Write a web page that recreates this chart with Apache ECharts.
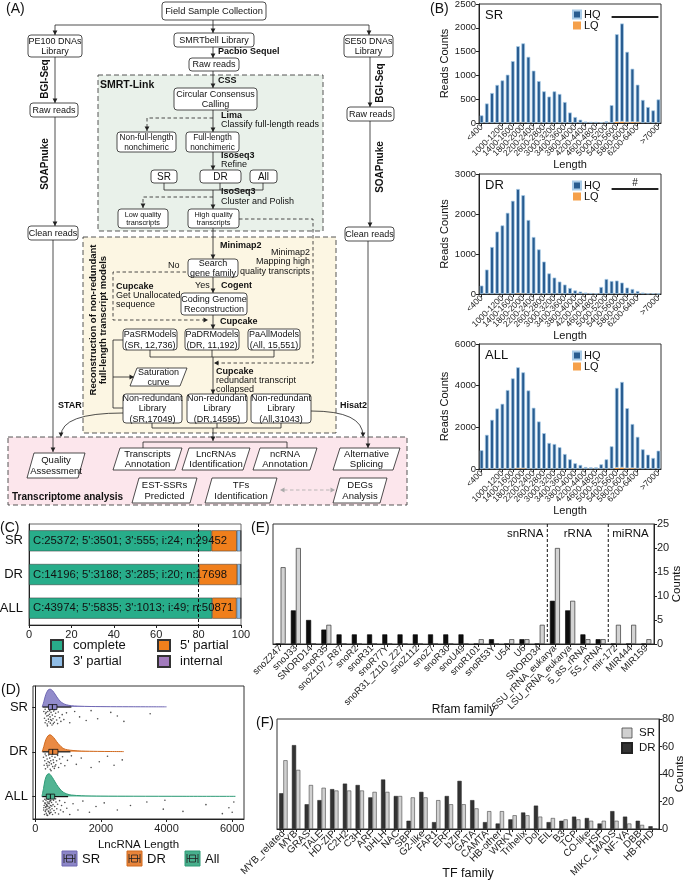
<!DOCTYPE html>
<html>
<head>
<meta charset="utf-8">
<script src="https://cdn.jsdelivr.net/npm/echarts@6.0.0/dist/echarts.min.js"></script>
<style>
html, body { margin: 0; padding: 0; background: #fff; }
#chart { width: 685px; height: 882px; }
</style>
</head>
<body>
<div id="chart"></div>
<script>
// ---------- data ----------
const lengthBins = ['<400', '400-600', '600-800', '800-1000', '1000-1200', '1200-1400', '1400-1600', '1600-1800',
  '1800-2000', '2000-2200', '2200-2400', '2400-2600', '2600-2800', '2800-3000', '3000-3200', '3200-3400',
  '3400-3600', '3600-3800', '3800-4000', '4000-4200', '4200-4400', '4400-4600', '4600-4800', '4800-5000',
  '5000-5200', '5200-5400', '5400-5600', '5600-5800', '5800-6000', '6000-6200', '6200-6400', '6400-6600',
  '6600-6800', '6800-7000', '>7000'];
const srHQ = [160, 410, 630, 800, 895, 1015, 1300, 1605, 1665, 1390, 1100, 880, 665, 555, 665, 610, 440, 220,
  125, 70, 30, 25, 25, 15, 35, 375, 1840, 2060, 1480, 1120, 790, 485, 335, 265, 495];
const srLQ = [0, 0, 0, 0, 0, 0, 0, 8, 8, 0, 0, 0, 0, 0, 0, 0, 0, 0, 0, 0, 0, 0, 0, 0, 0, 0, 25, 30, 15, 20, 15, 0, 0, 0, 0];
const drHQ = [210, 610, 1175, 1560, 1715, 2030, 2330, 2610, 2460, 1850, 1425, 1115, 810, 515, 410, 310, 235, 150,
  90, 60, 35, 25, 15, 175, 375, 325, 335, 285, 160, 125, 75, 35, 15, 20, 8];
const drLQ = [0, 0, 0, 0, 0, 0, 0, 15, 10, 0, 0, 0, 0, 0, 0, 0, 0, 0, 0, 0, 0, 0, 0, 0, 0, 0, 0, 0, 0, 0, 0, 0, 0, 0, 0];
const allHQ = [900, 1640, 2360, 2905, 3130, 3790, 4350, 4850, 4610, 3770, 2940, 2280, 1720, 1250, 1200, 1045, 720,
  465, 275, 195, 95, 80, 80, 225, 465, 1090, 3835, 4110, 2890, 2120, 1525, 945, 690, 530, 880];
const allLQ = [0, 0, 0, 0, 0, 0, 0, 30, 30, 0, 0, 0, 0, 0, 0, 0, 0, 0, 0, 0, 0, 0, 0, 0, 0, 0, 60, 70, 30, 40, 20, 0, 0, 0, 0];

const buscoGroups = ['SR', 'DR', 'ALL'];
const completeCnt = [25372, 14196, 43974];
const fivePartialCnt = [3501, 3188, 5835];
const threePartialCnt = [555, 285, 1013];
const internalCnt = [24, 20, 49];
const totalCnt = [29452, 17698, 50871];
const completePct = [86.1, 80.2, 86.4];
const fivePartialPct = [11.9, 18.0, 11.5];
const threePartialPct = [1.9, 1.6, 2.0];
const internalPct = [0.1, 0.1, 0.1];

const lncGroups = ['SR', 'DR', 'All'];
const lncSRDensity = [[210, 0], [260, 0.12], [320, 0.28], [390, 0.38], [450, 0.40], [520, 0.37], [600, 0.29],
  [680, 0.20], [760, 0.13], [850, 0.08], [950, 0.05], [1100, 0.03], [1300, 0.02], [1700, 0.012], [2300, 0.008],
  [3000, 0.006], [4000, 0.005]];
const lncDRDensity = [[210, 0], [260, 0.12], [320, 0.27], [390, 0.36], [450, 0.38], [520, 0.35], [600, 0.28],
  [690, 0.19], [780, 0.12], [870, 0.07], [980, 0.045], [1150, 0.03], [1400, 0.018], [1900, 0.01], [2300, 0.007],
  [2700, 0.005]];
const lncAllDensity = [[200, 0], [250, 0.18], [300, 0.38], [360, 0.49], [420, 0.51], [480, 0.47], [560, 0.38],
  [650, 0.27], [750, 0.17], [850, 0.10], [960, 0.06], [1100, 0.035], [1400, 0.02], [2000, 0.012], [3000, 0.009],
  [4500, 0.007], [6100, 0.006]];
// [q1, median, q3, whisker low, whisker high]
const lncSRBox = [400, 520, 660, 220, 1100];
const lncDRBox = [410, 530, 690, 220, 1070];
const lncAllBox = [335, 460, 590, 210, 1000];
// [length, jitter below the row]
const lncSRPoints = [[260, 0.1], [280, 0.25], [300, 0.35], [310, 0.15], [330, 0.3], [350, 0.2], [360, 0.38], [380, 0.1],
  [400, 0.27], [410, 0.33], [430, 0.16], [450, 0.22], [460, 0.36], [480, 0.12], [500, 0.3], [520, 0.18], [540, 0.26],
  [560, 0.09], [580, 0.34], [600, 0.21], [620, 0.14], [650, 0.29], [680, 0.37], [700, 0.11], [740, 0.24], [780, 0.32],
  [820, 0.17], [870, 0.28], [950, 0.13], [1050, 0.35], [1200, 0.1], [1350, 0.22], [1550, 0.3], [1700, 0.08],
  [1900, 0.26], [2300, 0.12], [2500, 0.2], [2700, 0.32], [3500, 0.15], [300, 0.05], [370, 0.42], [440, 0.08],
  [510, 0.4], [590, 0.06], [330, 0.12], [470, 0.28], [390, 0.19], [550, 0.37]];
const lncDRPoints = [[250, 0.12], [270, 0.3], [290, 0.2], [310, 0.38], [330, 0.09], [340, 0.26], [360, 0.16], [375, 0.34],
  [390, 0.22], [405, 0.07], [420, 0.3], [440, 0.14], [455, 0.39], [470, 0.2], [490, 0.27], [510, 0.1], [530, 0.33],
  [545, 0.18], [560, 0.24], [580, 0.37], [600, 0.12], [625, 0.29], [650, 0.2], [680, 0.08], [710, 0.35], [740, 0.16],
  [780, 0.26], [830, 0.11], [900, 0.31], [980, 0.19], [1100, 0.09], [1250, 0.28], [1400, 0.14], [1700, 0.35],
  [1950, 0.22], [2200, 0.1], [2400, 0.3], [2650, 0.18], [300, 0.05], [480, 0.42], [360, 0.3], [520, 0.05],
  [430, 0.24], [600, 0.32]];
const lncAllPoints = [[240, 0.1], [255, 0.3], [270, 0.2], [280, 0.4], [295, 0.14], [305, 0.33], [315, 0.24], [325, 0.08],
  [335, 0.37], [345, 0.18], [355, 0.28], [365, 0.12], [375, 0.42], [385, 0.22], [395, 0.32], [405, 0.06], [415, 0.26],
  [425, 0.16], [435, 0.38], [445, 0.1], [455, 0.3], [465, 0.2], [480, 0.35], [495, 0.13], [510, 0.27], [525, 0.4],
  [540, 0.18], [555, 0.08], [570, 0.31], [590, 0.22], [610, 0.36], [630, 0.12], [655, 0.27], [680, 0.17], [710, 0.39],
  [740, 0.09], [770, 0.3], [800, 0.2], [850, 0.34], [900, 0.13], [960, 0.26], [1050, 0.4], [1150, 0.16], [1300, 0.3],
  [1450, 0.1], [1650, 0.35], [1850, 0.22], [2100, 0.14], [2500, 0.3], [2900, 0.2], [3400, 0.12], [3950, 0.08],
  [3900, 0.28], [4500, 0.33], [5200, 0.18], [5700, 0.38], [5900, 0.25], [6050, 0.12], [6000, 0.35], [290, 0.06],
  [320, 0.3], [350, 0.41], [380, 0.05], [410, 0.34], [440, 0.24], [470, 0.09], [500, 0.21], [300, 0.16], [330, 0.22],
  [360, 0.2], [390, 0.15], [420, 0.12], [450, 0.36], [260, 0.25], [620, 0.05]];

const rfamFamilies = ['snoZ247', 'snoJ33', 'SNORD14', 'snoR35', 'snoZ107_R87', 'snoR2', 'snoR31', 'snoR77Y',
  'snoR31_Z110_Z27', 'snoZ112', 'snoZ7', 'snoR30', 'snoU49', 'snoR101', 'snoR53Y', 'U54', 'U6', 'SNORD34',
  'SSU_rRNA_eukarya', 'LSU_rRNA_eukarya', '5_8S_rRNA', '5S_rRNA', 'mir-172', 'MIR444', 'MIR159'];
const rfamDR = [0, 7, 5, 3, 2, 2, 2, 2, 2, 2, 2, 2, 2, 0, 1, 0, 1, 0, 9, 7, 2, 1, 0, 0, 0];
const rfamSR = [16, 20, 0, 4, 0, 0, 0, 0, 0, 0, 0, 0, 0, 1, 0, 1, 1, 4, 20, 9, 1, 1, 4, 4, 1];
const rfamClasses = ['snRNA', 'rRNA', 'miRNA'];

const tfFamilies = ['MYB_related', 'MYB', 'GRAS', 'TALE', 'HD-ZIP', 'C2H2', 'C3H', 'ARF', 'bHLH', 'NAC', 'SBP',
  'G2-like', 'FAR1', 'ERF', 'bZIP', 'GATA', 'CAMTA', 'HB-other', 'WRKY', 'Trihelix', 'Dof', 'EIL', 'B3', 'TCP',
  'CO-like', 'HSF', 'MIKC_MADS', 'NF-YA', 'DBB', 'HB-PHD'];
const tfDR = [26, 61, 18, 21, 29, 33, 32, 23, 36, 24, 6, 27, 5, 24, 35, 21, 5, 4, 7, 12, 17, 5, 6, 9, 8, 4, 13, 9, 6, 2];
const tfSR = [50, 43, 32, 30, 28, 28, 28, 27, 27, 24, 23, 23, 21, 18, 18, 15, 13, 13, 10, 10, 9, 8, 7, 7, 6, 6, 6, 4, 3, 0];

// ---------- chart ----------
const FF = '"Liberation Sans", Arial, sans-serif';
const chart = echarts.init(document.getElementById('chart'));

const frame = { show: true, borderColor: '#333', borderWidth: 1, containLabel: false, outerBoundsMode: 'none' };
const axLine = { show: true, lineStyle: { color: '#222', width: 1 } };
const axTick = { show: true, length: 3, lineStyle: { color: '#222' } };
const plain = (v) => String(v);

const histPanels = [
  { label: 'SR', hq: srHQ, lq: srLQ, max: 2500, step: 500, top: 4, height: 119, legendTop: 9, sig: 2230, sigText: '' },
  { label: 'DR', hq: drHQ, lq: drLQ, max: 3000, step: 1000, top: 174, height: 120, legendTop: 180, sig: 2625, sigText: '#' },
  { label: 'ALL', hq: allHQ, lq: allLQ, max: 6000, step: 2000, top: 344, height: 125, legendTop: 350, sig: null }
];

const grids = [], xAxes = [], yAxes = [], legends = [], series = [];

histPanels.forEach((p, i) => {
  grids.push(Object.assign({ left: 479, top: p.top, width: 182, height: p.height }, frame));
  xAxes.push({
    gridIndex: i, type: 'category', data: lengthBins, axisLine: axLine,
    axisTick: { show: true, length: 3, alignWithLabel: true, interval: 1, lineStyle: { color: '#222' } },
    axisLabel: { interval: 1, rotate: 45, fontSize: 8.5, color: '#222', margin: 3, fontFamily: FF,
      showMinLabel: true, showMaxLabel: true, hideOverlap: false },
    name: 'Length', nameLocation: 'middle', nameGap: 36, nameMoveOverlap: false,
    nameTextStyle: { fontSize: 11, color: '#111', fontFamily: FF }
  });
  yAxes.push({
    gridIndex: i, type: 'value', min: 0, max: p.max, interval: p.step, axisLine: axLine, axisTick: axTick,
    splitLine: { show: false }, axisLabel: { fontSize: 9.5, color: '#222', margin: 3, fontFamily: FF, formatter: plain },
    name: 'Reads Counts', nameLocation: 'middle', nameGap: 29, nameRotate: 90, nameMoveOverlap: false,
    nameTextStyle: { fontSize: 11, color: '#111', fontFamily: FF }
  });
  legends.push({
    data: ['HQ', 'LQ'], left: 572, top: p.legendTop, orient: 'vertical', icon: 'rect', itemWidth: 8, itemHeight: 8,
    itemGap: 0, padding: 0, textStyle: { fontSize: 11, color: '#111', fontFamily: FF, padding: [0, 0, 0, -2] }
  });
  series.push({
    type: 'bar', name: 'LQ', xAxisIndex: i, yAxisIndex: i, stack: 'h' + i, data: p.lq, barWidth: '70%',
    itemStyle: { color: '#f5a04a' }
  });
  const hq = {
    type: 'bar', name: 'HQ', xAxisIndex: i, yAxisIndex: i, stack: 'h' + i, data: p.hq, barWidth: '70%',
    itemStyle: { color: '#285c90', borderColor: '#a8cbe8', borderWidth: 0.7 }
  };
  if (p.sig) {
    hq.markLine = {
      silent: true, symbol: 'none', lineStyle: { color: '#222', width: 2, type: 'solid' },
      label: { show: !!p.sigText, formatter: p.sigText, position: 'middle', fontSize: 10, color: '#111', distance: 1 },
      data: [[{ coord: ['5200-5400', p.sig] }, { coord: ['>7000', p.sig] }]]
    };
  }
  series.push(hq);
});

// (C) completeness
grids.push(Object.assign({ left: 29, top: 524, width: 212, height: 101 }, frame, { borderColor: '#666' }));
xAxes.push({
  gridIndex: 3, type: 'value', min: 0, max: 100, interval: 20, axisLine: axLine, axisTick: axTick,
  splitLine: { show: false }, axisLabel: { fontSize: 11, color: '#222', margin: 4, fontFamily: FF, formatter: plain }
});
yAxes.push({
  gridIndex: 3, type: 'category', data: buscoGroups, inverse: true, axisLine: axLine,
  axisTick: { show: false }, axisLabel: { fontSize: 13, color: '#111', margin: 6, fontFamily: FF }
});
const buscoParts = [
  { name: 'complete', data: completePct, color: '#28ad8a' },
  { name: "5' partial", data: fivePartialPct, color: '#f07f1c' },
  { name: "3' partial", data: threePartialPct, color: '#90bde6' },
  { name: 'internal', data: internalPct, color: '#a27bbd' }
];
buscoParts.forEach((b, k) => {
  const s = {
    type: 'bar', name: b.name, xAxisIndex: 3, yAxisIndex: 3, stack: 'busco', data: b.data, barWidth: 21,
    itemStyle: { color: b.color, borderColor: '#333', borderWidth: 0.5 }
  };
  if (k === 0) {
    s.label = {
      show: true, position: 'insideLeft', distance: 4, color: '#111', fontSize: 11.3, fontFamily: FF,
      formatter: (q) => {
        const i = q.dataIndex;
        return `C:${completeCnt[i]}; 5':${fivePartialCnt[i]}; 3':${threePartialCnt[i]}; i:${internalCnt[i]}; n:${totalCnt[i]}`;
      }
    };
    s.markLine = {
      silent: true, symbol: 'none', label: { show: false },
      lineStyle: { color: '#111', type: [3, 2], width: 1 }, data: [{ xAxis: 80 }]
    };
  }
  series.push(s);
});
[[50, 639], [157, 639], [50, 655], [157, 655]].forEach((pos, k) => {
  legends.push({
    data: [buscoParts[k].name], left: pos[0], top: pos[1], icon: 'rect', itemWidth: 12, itemHeight: 11, padding: 0,
    textStyle: { fontSize: 13, color: '#111', fontFamily: FF, padding: [0, 0, 0, 5] }
  });
});

// (D) lncRNA length raincloud
grids.push(Object.assign({ left: 33, top: 686, width: 211, height: 133 }, frame));
xAxes.push({
  gridIndex: 4, type: 'value', min: -70, max: 6360, axisLine: axLine,
  axisTick: Object.assign({ customValues: [0, 2000, 4000, 6000] }, axTick), splitLine: { show: false },
  axisLabel: { customValues: [0, 2000, 4000, 6000], fontSize: 11, color: '#222', margin: 4, fontFamily: FF, formatter: plain },
  name: 'LncRNA Length', nameLocation: 'middle', nameGap: 20, nameMoveOverlap: false,
  nameTextStyle: { fontSize: 11.5, color: '#111', fontFamily: FF }
});
yAxes.push({
  gridIndex: 4, type: 'value', min: 0.5, max: 3.47, axisLine: axLine,
  axisTick: Object.assign({ customValues: [1, 2, 3] }, axTick), splitLine: { show: false },
  axisLabel: {
    customValues: [1, 2, 3], fontSize: 13, color: '#111', margin: 5, fontFamily: FF,
    formatter: (v) => ({ 1: 'ALL', 2: 'DR', 3: 'SR' })[v]
  }
});
const lncRows = [
  { name: 'SR', base: 3, density: lncSRDensity, box: lncSRBox, pts: lncSRPoints, fill: '#8c86c8', line: '#6f67b3' },
  { name: 'DR', base: 2, density: lncDRDensity, box: lncDRBox, pts: lncDRPoints, fill: '#e8843a', line: '#d06a1f' },
  { name: 'All', base: 1, density: lncAllDensity, box: lncAllBox, pts: lncAllPoints, fill: '#48b08d', line: '#2e9b76' }
];
lncRows.forEach((r) => {
  series.push({
    type: 'line', name: r.name + ' density', xAxisIndex: 4, yAxisIndex: 4, smooth: 0.3, symbol: 'none',
    data: r.density.map(d => [d[0], r.base + d[1]]),
    lineStyle: { color: r.line, width: 1 }, areaStyle: { color: r.fill, opacity: 0.95, origin: r.base }
  });
  series.push({
    type: 'scatter', name: r.name + ' points', xAxisIndex: 4, yAxisIndex: 4, symbolSize: 1.6,
    data: r.pts.map(d => [d[0], r.base - d[1]]), itemStyle: { color: '#222' }
  });
  series.push({
    type: 'custom', name: r.name + ' box', xAxisIndex: 4, yAxisIndex: 4, z: 5,
    data: [r.box.concat([r.base])], encode: { x: [0, 1, 2, 3, 4], y: 5 },
    renderItem: (params, api) => {
      const b = api.value(5);
      const lo = api.coord([api.value(3), b]), hi = api.coord([api.value(4), b]);
      const q1 = api.coord([api.value(0), b]), md = api.coord([api.value(1), b]), q3 = api.coord([api.value(2), b]);
      return {
        type: 'group', children: [
          { type: 'line', shape: { x1: lo[0], y1: lo[1], x2: hi[0], y2: hi[1] }, style: { stroke: '#111', lineWidth: 1.2 } },
          { type: 'rect', shape: { x: q1[0], y: q1[1] - 2.5, width: q3[0] - q1[0], height: 5 }, style: { fill: r.fill, stroke: '#111', lineWidth: 0.8 } },
          { type: 'line', shape: { x1: md[0], y1: md[1] - 2.5, x2: md[0], y2: md[1] + 2.5 }, style: { stroke: '#111', lineWidth: 1 } }
        ]
      };
    }
  });
});

// (E) Rfam family
grids.push(Object.assign({ left: 273, top: 524, width: 381, height: 120 }, frame));
xAxes.push({
  gridIndex: 5, type: 'category', data: rfamFamilies, axisLine: axLine,
  axisTick: { show: true, length: 3, alignWithLabel: true, lineStyle: { color: '#222' } },
  axisLabel: { interval: 0, rotate: 45, fontSize: 9.5, color: '#222', margin: 3, fontFamily: FF, hideOverlap: false },
  name: 'Rfam family', nameLocation: 'middle', nameGap: 60, nameMoveOverlap: false,
  nameTextStyle: { fontSize: 12, color: '#111', fontFamily: FF }
});
yAxes.push({
  gridIndex: 5, type: 'value', position: 'right', min: 0, max: 25, interval: 5, axisLine: axLine, axisTick: axTick,
  splitLine: { show: false }, axisLabel: { fontSize: 11, color: '#222', margin: 3, fontFamily: FF, formatter: plain },
  name: 'Counts', nameLocation: 'middle', nameGap: 17, nameRotate: 90, nameMoveOverlap: false,
  nameTextStyle: { fontSize: 11.5, color: '#111', fontFamily: FF }
});
series.push({
  type: 'bar', name: 'DR', xAxisIndex: 5, yAxisIndex: 5, data: rfamDR, barWidth: 5, barGap: '0%',
  itemStyle: { color: '#0d0d0d', borderColor: '#000', borderWidth: 0.6 }
});
series.push({
  type: 'bar', name: 'SR', xAxisIndex: 5, yAxisIndex: 5, data: rfamSR, barWidth: 5, barGap: '0%',
  itemStyle: { color: '#d3d3d3', borderColor: '#333', borderWidth: 0.7 }
});

// (F) TF family
grids.push(Object.assign({ left: 277, top: 719, width: 382, height: 110 }, frame));
xAxes.push({
  gridIndex: 6, type: 'category', data: tfFamilies, axisLine: axLine,
  axisTick: { show: true, length: 3, alignWithLabel: true, lineStyle: { color: '#222' } },
  axisLabel: { interval: 0, rotate: 45, fontSize: 10, color: '#222', margin: 3, fontFamily: FF, hideOverlap: false },
  name: 'TF family', nameLocation: 'middle', nameGap: 38, nameMoveOverlap: false,
  nameTextStyle: { fontSize: 12.5, color: '#111', fontFamily: FF }
});
yAxes.push({
  gridIndex: 6, type: 'value', position: 'right', min: 0, max: 80, interval: 20, axisLine: axLine, axisTick: axTick,
  splitLine: { show: false }, axisLabel: { fontSize: 11, color: '#222', margin: 3, fontFamily: FF, formatter: plain },
  name: 'Counts', nameLocation: 'middle', nameGap: 15, nameRotate: 90, nameMoveOverlap: false,
  nameTextStyle: { fontSize: 11.5, color: '#111', fontFamily: FF }
});
series.push({
  type: 'bar', name: 'DR', xAxisIndex: 6, yAxisIndex: 6, data: tfDR, barWidth: 4.2, barGap: '0%',
  itemStyle: { color: '#333', borderColor: '#222', borderWidth: 0.5 }
});
series.push({
  type: 'bar', name: 'SR', xAxisIndex: 6, yAxisIndex: 6, data: tfSR, barWidth: 4.2, barGap: '0%',
  itemStyle: { color: '#d0d0d0', borderColor: '#444', borderWidth: 0.6 }
});
legends.push({
  data: [{ name: 'SR', itemStyle: { color: '#d0d0d0', borderColor: '#444', borderWidth: 0.8 } },
         { name: 'DR', itemStyle: { color: '#333', borderColor: '#222' } }],
  left: 621, top: 727, orient: 'vertical', icon: 'rect', itemWidth: 10, itemHeight: 10, itemGap: 3, padding: 0,
  textStyle: { fontSize: 11.5, color: '#111', fontFamily: FF, padding: [0, 0, 0, 2] }
});

chart.setOption({
  animation: false,
  textStyle: { fontFamily: FF, color: '#111' },
  grid: grids, xAxis: xAxes, yAxis: yAxes, legend: legends, series: series
});

// ---------- drawn annotations / flow chart ----------
const g = [];
function txt(x, y, text, o) {
  o = o || {};
  g.push({
    type: 'text', x: x, y: y, rotation: o.rot || 0, z: 10,
    style: {
      text: text, fontSize: o.fs || 9, fontFamily: FF, fontWeight: o.bold ? 'bold' : 'normal',
      fill: o.color || '#111', align: o.align || 'left', verticalAlign: o.va || 'middle',
      lineHeight: (o.fs || 9) + 1.2
    }
  });
}
function bold(x, y, text, o) { txt(x, y, text, Object.assign({ bold: true }, o || {})); }
function bg(x, y, w, h, fill) {
  g.push({ type: 'rect', z: 1, shape: { x: x, y: y, width: w, height: h },
    style: { fill: fill, stroke: '#444', lineWidth: 0.9, lineDash: [5, 3] } });
}
function rbox(x, y, w, h, text, fs) {
  g.push({ type: 'rect', z: 5, shape: { x: x, y: y, width: w, height: h, r: 3 },
    style: { fill: '#fff', stroke: '#222', lineWidth: 0.8 } });
  txt(x + w / 2, y + h / 2 + 0.5, text, { align: 'center', fs: fs || 9 });
}
function para(x, y, w, h, text, fs) {
  const s = 7;
  g.push({ type: 'polygon', z: 5, shape: { points: [[x + s, y], [x + w, y], [x + w - s, y + h], [x, y + h]] },
    style: { fill: '#fff', stroke: '#222', lineWidth: 0.8 } });
  txt(x + w / 2, y + h / 2 + 0.5, text, { align: 'center', fs: fs || 9.5 });
}
function line(pts, dash, color) {
  g.push({ type: 'polyline', z: 4, shape: { points: pts },
    style: { stroke: color || '#222', lineWidth: 0.8, lineDash: dash ? [3.5, 2.5] : null, fill: 'none' } });
}
function head(x, y, dir, color) {
  const s = 2.4, l = 4.5;
  let pts;
  if (dir === 'down') pts = [[x - s, y - l], [x + s, y - l], [x, y]];
  if (dir === 'right') pts = [[x - l, y - s], [x - l, y + s], [x, y]];
  if (dir === 'left') pts = [[x + l, y - s], [x + l, y + s], [x, y]];
  g.push({ type: 'polygon', z: 6, shape: { points: pts }, style: { fill: color || '#222' } });
}
function arrow(pts, dir, dash, color) {
  line(pts, dash, color);
  const p = pts[pts.length - 1];
  head(p[0], p[1], dir, color);
}
function curve(x1, y1, x2, y2, cx, cy) {
  g.push({ type: 'bezierCurve', z: 4, shape: { x1: x1, y1: y1, x2: x2, y2: y2, cpx1: cx, cpy1: cy },
    style: { stroke: '#222', lineWidth: 0.8, fill: 'none' } });
  head(x2, y2 + 1, 'down');
}

// panel letters
txt(6, 9, '(A)', { fs: 14 });
txt(430, 9, '(B)', { fs: 14 });
txt(0, 528, '(C)', { fs: 14 });
txt(251, 528, '(E)', { fs: 14 });
txt(1, 690, '(D)', { fs: 14 });
txt(256, 723, '(F)', { fs: 14 });

// (A) backgrounds
bg(98, 75, 225, 156, '#e9f1ea');
bg(83, 237, 253, 196, '#fcf6e3');
bg(8, 437, 399, 68, '#fce6ec');

// (A) connectors
arrow([[213, 20], [213, 33]], 'down');
line([[55, 25], [369, 25]]);
arrow([[55, 25], [55, 35]], 'down');
arrow([[369, 25], [369, 35]], 'down');
arrow([[55, 57], [55, 103]], 'down');
arrow([[55, 117], [55, 226]], 'down');
arrow([[53, 240], [53, 452]], 'down');
arrow([[370, 57], [370, 107]], 'down');
arrow([[370, 121], [370, 227]], 'down');
arrow([[368, 241], [368, 448]], 'down');
arrow([[213, 47], [213, 58]], 'down');
arrow([[213, 71], [213, 88]], 'down');
arrow([[213, 110], [213, 132]], 'down');
arrow([[213, 118], [147, 118], [147, 131]], 'down', true);
arrow([[213, 152], [213, 170]], 'down');
line([[164, 183], [164, 190], [263, 190], [263, 183]]);
line([[220, 183], [220, 190]]);
arrow([[213, 190], [213, 209]], 'down');
arrow([[213, 197], [143, 197], [143, 208]], 'down', true);
arrow([[213, 228], [213, 259]], 'down');
arrow([[239, 219], [313, 219], [313, 363], [214, 363]], 'left', true);
arrow([[186, 272], [113, 272], [113, 320], [208, 320]], 'right', true);
arrow([[213, 277], [213, 293]], 'down');
arrow([[213, 315], [213, 329]], 'down');
line([[150, 350], [150, 357], [274, 357], [274, 350]]);
line([[212, 350], [212, 357]]);
arrow([[213, 357], [213, 394]], 'down');
line([[123, 340], [113, 340], [113, 408], [123, 408]]);
arrow([[113, 377], [134, 377]], 'right');
line([[152, 423], [152, 428], [281, 428], [281, 423]]);
line([[217, 423], [217, 428]]);
arrow([[213, 428], [213, 441]], 'down');
line([[143, 448], [143, 442], [287, 442], [287, 448]]);
curve(123, 413, 61, 436, 61, 413);
curve(311, 411, 363, 436, 363, 411);
line([[284, 490], [331, 490]], true, '#aaa');
head(280, 490, 'left', '#aaa');
head(335, 490, 'right', '#aaa');

// (A) boxes
rbox(162, 2, 104, 18, 'Field Sample Collection', 9.3);
rbox(28, 35, 54, 22, 'PE100 DNAs\nLibrary');
rbox(174, 33, 80, 14, 'SMRTbell Library');
rbox(189, 58, 50, 13, 'Raw reads');
rbox(344, 35, 49, 22, 'SE50 DNAs\nLibrary');
rbox(30, 103, 48, 14, 'Raw reads');
rbox(347, 107, 47, 14, 'Raw reads');
rbox(28, 226, 50, 14, 'Clean reads');
rbox(345, 227, 49, 14, 'Clean reads');
rbox(174, 88, 83, 22, 'Circular Consensus\nCalling');
rbox(117, 132, 59, 20, 'Non-full-length\nnonchimeric', 8.3);
rbox(186, 132, 53, 20, 'Full-length\nnonchimeric', 8.3);
rbox(151, 170, 26, 13, 'SR', 10);
rbox(200, 170, 41, 13, 'DR', 10);
rbox(250, 170, 27, 13, 'All', 10);
rbox(118, 209, 50, 19, 'Low quality\ntranscripts', 7.3);
rbox(188, 209, 51, 19, 'High quality\ntranscripts', 7.3);
rbox(188, 259, 50, 18, 'Search\ngene family');
rbox(181, 293, 66, 22, 'Coding Genome\nReconstruction');
rbox(123, 329, 54, 21, 'PaSRModels\n(SR, 12,736)');
rbox(185, 329, 54, 21, 'PaDRModels\n(DR, 11,192)');
rbox(248, 329, 52, 21, 'PaAllModels\n(All, 15,551)');
rbox(123, 394, 59, 29, 'Non-redundant\nLibrary\n(SR,17049)');
rbox(187, 394, 60, 29, 'Non-redundant\nLibrary\n(DR,14595)');
rbox(251, 394, 60, 29, 'Non-redundant\nLibrary\n(All,31043)');
para(130, 368, 57, 18, 'Saturation\ncurve', 9);
para(27, 453, 58, 25, 'Quality\nAssessment');
para(113, 448, 69, 22, 'Transcripts\nAnnotation');
para(182, 448, 68, 22, 'LncRNAs\nIdentification');
para(253, 448, 64, 22, 'ncRNA\nAnnotation');
para(333, 448, 67, 22, 'Alternative\nSplicing');
para(132, 478, 65, 25, 'EST-SSRs\nPredicted');
para(205, 478, 72, 25, 'TFs\nIdentification');
para(333, 478, 54, 25, 'DEGs\nAnalysis');

// (A) labels
bold(218, 52, 'Pacbio Sequel');
bold(218, 81, 'CSS');
bold(100, 85, 'SMRT-Link', { fs: 10.5 });
bold(221, 116, 'Lima'); txt(221, 125, 'Classify full-length reads');
bold(221, 156, 'Isoseq3'); txt(221, 165, 'Refine');
bold(221, 192, 'IsoSeq3'); txt(221, 202, 'Cluster and Polish');
bold(220, 246, 'Minimap2');
txt(310, 253, 'Minimap2', { align: 'right' });
txt(310, 262, 'Mapping high', { align: 'right' });
txt(310, 272, 'quality transcripts', { align: 'right' });
txt(168, 266, 'No');
bold(116, 287, 'Cupcake'); txt(116, 296, 'Get Unallocated'); txt(116, 305, 'sequence');
txt(195, 286, 'Yes'); bold(221, 286, 'Cogent');
bold(220, 322, 'Cupcake');
bold(216, 372, 'Cupcake'); txt(216, 381, 'redundant transcript'); txt(216, 390, 'collapsed');
bold(58, 406, 'STAR'); bold(340, 406, 'Hisat2');
bold(12, 497, 'Transcriptome analysis', { fs: 10 });
bold(45, 79, 'BGI-Seq', { rot: Math.PI / 2, align: 'center', fs: 10 });
bold(380, 83, 'BGI-Seq', { rot: Math.PI / 2, align: 'center', fs: 10 });
bold(45, 164, 'SOAPnuke', { rot: Math.PI / 2, align: 'center', fs: 10 });
bold(380, 167, 'SOAPnuke', { rot: Math.PI / 2, align: 'center', fs: 10 });
bold(93, 320, 'Reconstruction of non-redundant', { rot: Math.PI / 2, align: 'center', fs: 9.5 });
bold(103, 320, 'full-length transcript models', { rot: Math.PI / 2, align: 'center', fs: 9.5 });

// (B) panel tags
histPanels.forEach((p) => txt(485, p.top + 11, p.label, { fs: 13 }));

// (D) legend
[[62, 'SR', 0], [127, 'DR', 1], [185, 'All', 2]].forEach(([x, name, k]) => {
  const y = 851;
  g.push({ type: 'rect', z: 8, shape: { x: x, y: y, width: 15, height: 15 },
    style: { fill: lncRows[k].fill, stroke: lncRows[k].line, lineWidth: 1 } });
  g.push({ type: 'rect', z: 9, shape: { x: x + 4.5, y: y + 4, width: 6, height: 7 },
    style: { fill: 'none', stroke: '#222', lineWidth: 0.8 } });
  g.push({ type: 'line', z: 9, shape: { x1: x + 2, y1: y + 7.5, x2: x + 13, y2: y + 7.5 }, style: { stroke: '#222', lineWidth: 0.8 } });
  g.push({ type: 'line', z: 9, shape: { x1: x + 2, y1: y + 3, x2: x + 2, y2: y + 12 }, style: { stroke: '#222', lineWidth: 0.8 } });
  g.push({ type: 'line', z: 9, shape: { x1: x + 13, y1: y + 3, x2: x + 13, y2: y + 12 }, style: { stroke: '#222', lineWidth: 0.8 } });
  txt(x + 20, y + 8, lncGroups[k], { fs: 13 });
});

// (E) class separators, placed with the axis scale
const ex = (c) => chart.convertToPixel({ xAxisIndex: 5 }, c);
const eyTop = chart.convertToPixel({ yAxisIndex: 5 }, 25);
const eyBot = chart.convertToPixel({ yAxisIndex: 5 }, 0);
const sep1 = (ex('SNORD34') + ex('SSU_rRNA_eukarya')) / 2;
const sep2 = (ex('5S_rRNA') + ex('mir-172')) / 2;
[sep1, sep2].forEach((x) => {
  g.push({ type: 'line', z: 7, shape: { x1: x, y1: eyTop, x2: x, y2: eyBot },
    style: { stroke: '#111', lineWidth: 1, lineDash: [3, 2] } });
});
txt(sep1 - 4, eyTop + 10, rfamClasses[0], { fs: 11.5, align: 'right' });
txt((sep1 + sep2) / 2, eyTop + 10, rfamClasses[1], { fs: 11.5, align: 'center' });
txt(sep2 + 4, eyTop + 10, rfamClasses[2], { fs: 11.5 });

chart.setOption({ graphic: g });
</script>
</body>
</html>
